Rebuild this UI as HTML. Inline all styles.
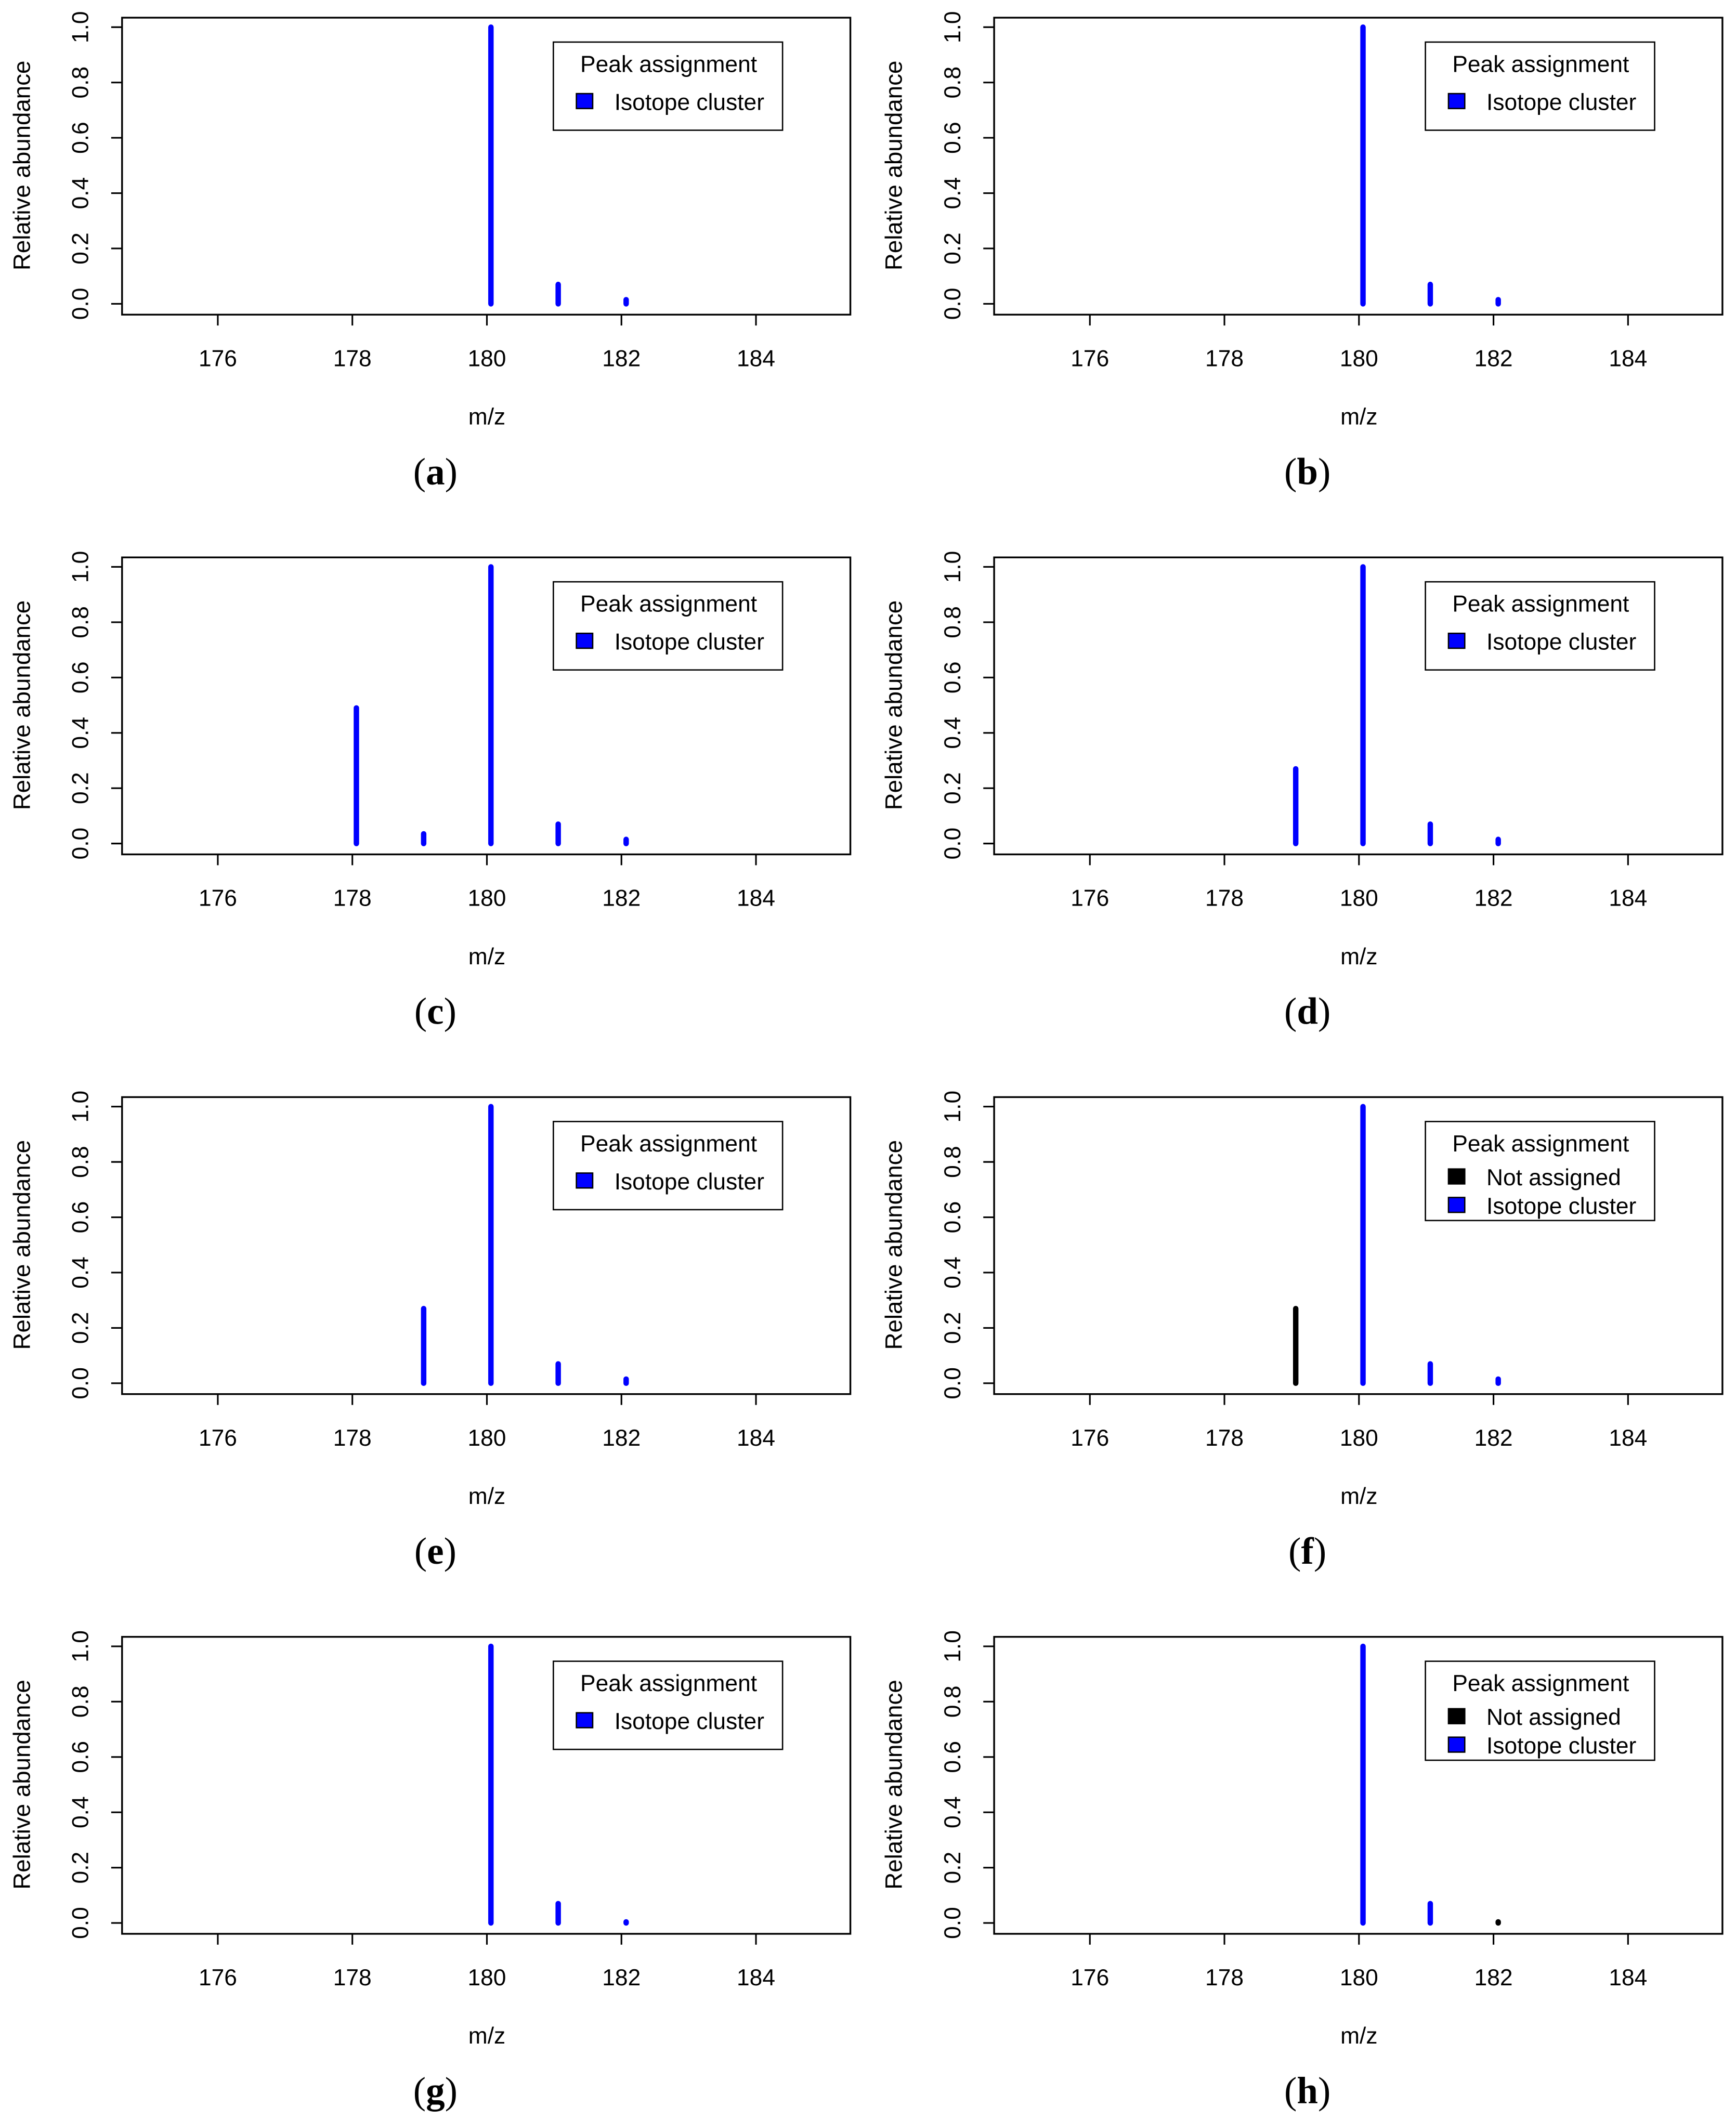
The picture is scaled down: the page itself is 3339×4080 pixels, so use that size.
<!DOCTYPE html>
<html><head><meta charset="utf-8"><style>
html,body{margin:0;padding:0;background:#fff}
svg{display:block}
text{font-family:"Liberation Sans",sans-serif;fill:#000}
.cap{font-family:"Liberation Serif",serif;font-size:28px}
</style></head><body>
<svg id="fig" xmlns="http://www.w3.org/2000/svg" width="3339" height="4080" viewBox="0 0 1280 1564"></svg>
<script>
// panel data
const panelLabels = ['a','b','c','d','e','f','g','h'];
const peakMz = [
  [180.06,181.06,182.07],
  [180.06,181.06,182.07],
  [178.06,179.06,180.06,181.06,182.07],
  [179.06,180.06,181.06,182.07],
  [179.06,180.06,181.06,182.07],
  [179.06,180.06,181.06,182.07],
  [180.06,181.06,182.07],
  [180.06,181.06,182.07]
];
const peakAbund = [
  [1.0,0.07,0.015],
  [1.0,0.07,0.015],
  [0.49,0.035,1.0,0.07,0.015],
  [0.27,1.0,0.07,0.015],
  [0.27,1.0,0.07,0.015],
  [0.27,1.0,0.07,0.015],
  [1.0,0.07,0.004],
  [1.0,0.07,0.004]
];
const peakAssigned = [
  [1,1,1],[1,1,1],[1,1,1,1,1],[1,1,1,1],[1,1,1,1],[0,1,1,1],[1,1,1],[1,1,0]
];
const legendHasNotAssigned = [0,0,0,0,0,1,0,1];
const xTicks = [176,178,180,182,184];
const yTicks = [0.0,0.2,0.4,0.6,0.8,1.0];

const NS='http://www.w3.org/2000/svg';
const svg=document.getElementById('fig');
function mk(tag,attrs,parent,txt){const e=document.createElementNS(NS,tag);for(const k in attrs)e.setAttribute(k,attrs[k]);if(txt!==undefined)e.textContent=txt;(parent||svg).appendChild(e);return e;}

panelLabels.forEach((lab,i)=>{
  const ox=(i%2)*643, oy=Math.floor(i/2)*398;
  const g=mk('g',{transform:`translate(${ox},${oy})`});
  
  
  const xs=v=>359+(v-180)*49.6;
  const ys=v=>224-204*v;
  const box=mk('rect',{x:90,y:13,width:537,height:219,fill:'none',stroke:'#000','stroke-width':1.3},g);
  
  
  xTicks.forEach(t=>{
    mk('line',{x1:xs(t),x2:xs(t),y1:232,y2:240,stroke:'#000','stroke-width':1.2},g);
    const tl=mk('text',{x:xs(t),y:270,'text-anchor':'middle','font-size':17},g,String(t));
    
    
  });
  yTicks.forEach(t=>{
    mk('line',{x1:82,x2:90,y1:ys(t),y2:ys(t),stroke:'#000','stroke-width':1.2},g);
    const tl=mk('text',{x:0,y:0,'text-anchor':'middle','font-size':17,transform:`translate(65,${ys(t)}) rotate(-90)`},g,t.toFixed(1));
    
    
  });
  const yt=mk('text',{x:0,y:0,'text-anchor':'middle','font-size':17.5,transform:'translate(22,122) rotate(-90)'},g,'Relative abundance');
  
  
  const xt=mk('text',{x:359,y:313,'text-anchor':'middle','font-size':17},g,'m/z');
  
  
  peakMz[i].forEach((m,j)=>{
    const col=peakAssigned[i][j]?'#0000ff':'#000';
    const l=mk('line',{x1:xs(m),x2:xs(m),y1:ys(0),y2:ys(peakAbund[i][j]),stroke:col,'stroke-width':4,'stroke-linecap':'round'},g);
    
    
  });
  const three=legendHasNotAssigned[i];
  const lg=mk('g',{},g);
  
  
  mk('rect',{x:408,y:31,width:169,height:three?73:65,fill:'#fff',stroke:'#000','stroke-width':1},lg);
  mk('text',{x:493,y:53,'text-anchor':'middle','font-size':17},lg,'Peak assignment');
  const entries=three?[['#000','Not assigned',72],['#0000ff','Isotope cluster',93]]:[['#0000ff','Isotope cluster',75]];
  entries.forEach(e=>{
    mk('rect',{x:425,y:e[2]-6,width:12,height:11,fill:e[0],stroke:'#000','stroke-width':1},lg);
    const t=mk('text',{x:453,y:e[2]+6,'font-size':17},lg,e[1]);
    
    
  });
  const c=mk('text',{x:321,y:357,'text-anchor':'middle',class:'cap'},g);
  
  
  mk('tspan',{},c,'(');
  mk('tspan',{'font-weight':'bold'},c,lab);
  mk('tspan',{},c,')');
});
</script>
</body></html>
